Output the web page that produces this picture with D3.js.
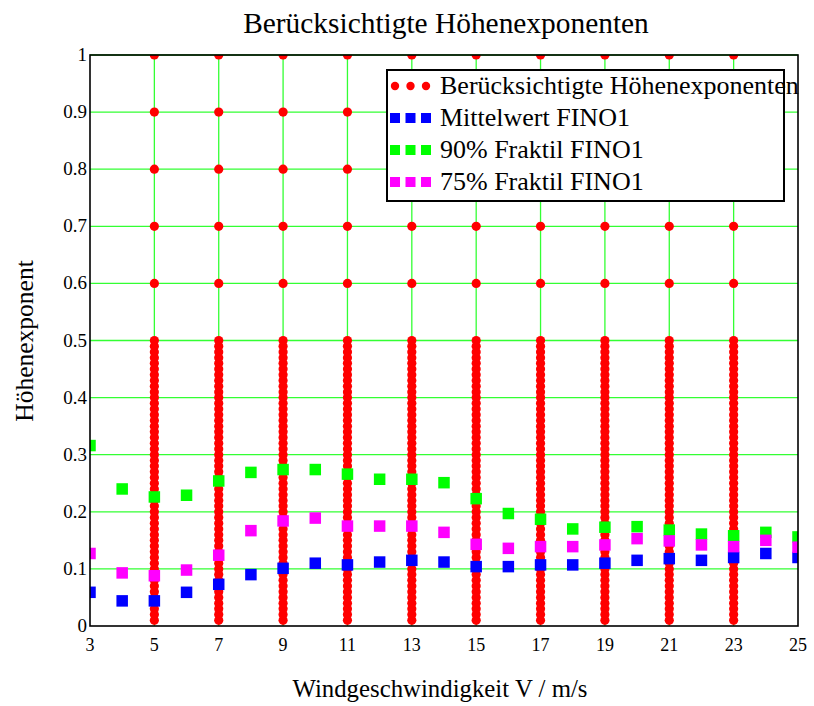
<!DOCTYPE html>
<html>
<head>
<meta charset="utf-8">
<script src="https://cdn.jsdelivr.net/npm/d3@7"></script>
<style>
  body { margin: 0; background: #fff; }
  svg text { font-family: "Liberation Serif", "Times New Roman", Times, serif; fill: #000; }
</style>
</head>
<body>
<div id="chart"></div>
<script>
// wind speeds (m/s) for the FINO1 series
const windSpeeds = [3, 4, 5, 6, 7, 8, 9, 10, 11, 12, 13, 14, 15, 16, 17, 18, 19, 20, 21, 22, 23, 24, 25];
const meanFino = [0.059, 0.044, 0.044, 0.059, 0.073, 0.090, 0.101, 0.110, 0.107, 0.112, 0.115, 0.112,
                  0.104, 0.104, 0.107, 0.107, 0.110, 0.115, 0.118, 0.115, 0.120, 0.127, 0.120];
const frac90 = [0.316, 0.240, 0.226, 0.229, 0.254, 0.269, 0.274, 0.274, 0.266, 0.257, 0.257, 0.251,
                0.223, 0.197, 0.187, 0.170, 0.173, 0.174, 0.168, 0.161, 0.158, 0.164, 0.156];
const frac75 = [0.127, 0.093, 0.088, 0.098, 0.124, 0.167, 0.184, 0.189, 0.175, 0.175, 0.175, 0.164,
                0.143, 0.136, 0.139, 0.139, 0.142, 0.153, 0.149, 0.142, 0.139, 0.150, 0.138];

// considered height exponents, at each considered wind speed
const consideredSpeeds = [5, 7, 9, 11, 13, 15, 17, 19, 21, 23];
const consideredExponents = [
  0.01, 0.02, 0.03, 0.04, 0.05, 0.06, 0.07, 0.08, 0.09, 0.10,
  0.11, 0.12, 0.13, 0.14, 0.15, 0.16, 0.17, 0.18, 0.19, 0.20,
  0.21, 0.22, 0.23, 0.24, 0.25, 0.26, 0.27, 0.28, 0.29, 0.30,
  0.31, 0.32, 0.33, 0.34, 0.35, 0.36, 0.37, 0.38, 0.39, 0.40,
  0.41, 0.42, 0.43, 0.44, 0.45, 0.46, 0.47, 0.48, 0.49, 0.50,
  0.6, 0.7, 0.8, 0.9, 1.0
];

const xTicks = [3, 5, 7, 9, 11, 13, 15, 17, 19, 21, 23, 25];
const yTicks = [0, 0.1, 0.2, 0.3, 0.4, 0.5, 0.6, 0.7, 0.8, 0.9, 1];

const titleText = "Berücksichtigte Höhenexponenten";
const xLabel = "Windgeschwindigkeit V / m/s";
const yLabel = "Höhenexponent";
const legendItems = [
  {label: "Berücksichtigte Höhenexponenten", color: "#ff0000", shape: "circle"},
  {label: "Mittelwert FINO1", color: "#0000ff", shape: "square"},
  {label: "90% Fraktil FINO1", color: "#00ff00", shape: "square"},
  {label: "75% Fraktil FINO1", color: "#ff00ff", shape: "square"}
];

const W = 814, H = 706;
const svg = d3.select('#chart').append('svg')
  .attr('width', W)
  .attr('height', H)
  .attr('font-family', '"Liberation Serif", "Times New Roman", Times, serif');

const x = d3.scaleLinear().domain([3, 25]).range([90, 798]);
const y = d3.scaleLinear().domain([0, 1]).range([626, 55]);

// clip to plot area
svg.append('defs').append('clipPath').attr('id', 'plotclip')
  .append('rect')
  .attr('x', x(3)).attr('y', y(1))
  .attr('width', x(25) - x(3)).attr('height', y(0) - y(1));

// grid
const grid = svg.append('g');
grid.selectAll('line.v')
  .data(xTicks.slice(1, -1))
  .enter().append('line')
  .attr('class', 'v')
  .attr('x1', d => x(d)).attr('x2', d => x(d))
  .attr('y1', y(0)).attr('y2', y(1))
  .attr('stroke', '#33ff33').attr('stroke-width', 1.3);
grid.selectAll('line.h')
  .data(yTicks.slice(1))
  .enter().append('line')
  .attr('class', 'h')
  .attr('x1', x(3)).attr('x2', x(25))
  .attr('y1', d => y(d)).attr('y2', d => y(d))
  .attr('stroke', '#33ff33').attr('stroke-width', 1.3);

const plot = svg.append('g').attr('clip-path', 'url(#plotclip)');

// red dots
const dots = [];
consideredSpeeds.forEach(s => consideredExponents.forEach(e => dots.push({s, e})));
plot.selectAll('circle.dot')
  .data(dots)
  .enter().append('circle')
  .attr('class', 'dot')
  .attr('cx', d => x(d.s))
  .attr('cy', d => y(d.e))
  .attr('r', 4.6)
  .attr('fill', '#ff0000');

// square series
const sq = 11.5;
const series = [
  {values: meanFino, color: '#0000ff'},
  {values: frac90, color: '#00ff00'},
  {values: frac75, color: '#ff00ff'}
];
series.forEach(se => {
  plot.append('g').selectAll('rect')
    .data(se.values)
    .enter().append('rect')
    .attr('x', (d, i) => x(windSpeeds[i]) - sq / 2)
    .attr('y', d => y(d) - sq / 2)
    .attr('width', sq).attr('height', sq)
    .attr('fill', se.color);
});

// frame
svg.append('rect')
  .attr('x', x(3)).attr('y', y(1))
  .attr('width', x(25) - x(3)).attr('height', y(0) - y(1))
  .attr('fill', 'none')
  .attr('stroke', '#000').attr('stroke-width', 1.6);

// tick labels
svg.append('g').selectAll('text')
  .data(xTicks)
  .enter().append('text')
  .attr('x', d => x(d))
  .attr('y', 651)
  .attr('text-anchor', 'middle')
  .style('font-size', '18px')
  .text(d => d);
svg.append('g').selectAll('text')
  .data(yTicks)
  .enter().append('text')
  .attr('x', 87)
  .attr('y', d => y(d) + 6)
  .attr('text-anchor', 'end')
  .style('font-size', '19px')
  .text(d => d);

// titles
svg.append('text')
  .attr('x', 446).attr('y', 33)
  .attr('text-anchor', 'middle')
  .style('font-size', '29.4px')
  .text(titleText);
svg.append('text')
  .attr('x', 440).attr('y', 697)
  .attr('text-anchor', 'middle')
  .style('font-size', '24.8px')
  .text(xLabel);
svg.append('text')
  .attr('transform', 'translate(33, 341) rotate(-90)')
  .attr('text-anchor', 'middle')
  .style('font-size', '25.5px')
  .text(yLabel);

// legend
const legend = svg.append('g');
legend.append('rect')
  .attr('x', 387).attr('y', 70)
  .attr('width', 397).attr('height', 131)
  .attr('fill', '#fff')
  .attr('stroke', '#000').attr('stroke-width', 2);
const rows = legend.selectAll('g.row')
  .data(legendItems)
  .enter().append('g')
  .attr('class', 'row')
  .attr('transform', (d, i) => `translate(0, ${86 + i * 32})`);
[395, 410.5, 426].forEach(mx => {
  rows.each(function(d) {
    const g = d3.select(this);
    if (d.shape === 'circle') {
      g.append('circle').attr('cx', mx).attr('cy', 0).attr('r', 4.2).attr('fill', d.color);
    } else {
      g.append('rect').attr('x', mx - 5).attr('y', -5).attr('width', 10).attr('height', 10).attr('fill', d.color);
    }
  });
});
rows.append('text')
  .attr('x', 440)
  .attr('y', 8)
  .style('font-size', '26px')
  .text(d => d.label);
</script>
</body>
</html>
